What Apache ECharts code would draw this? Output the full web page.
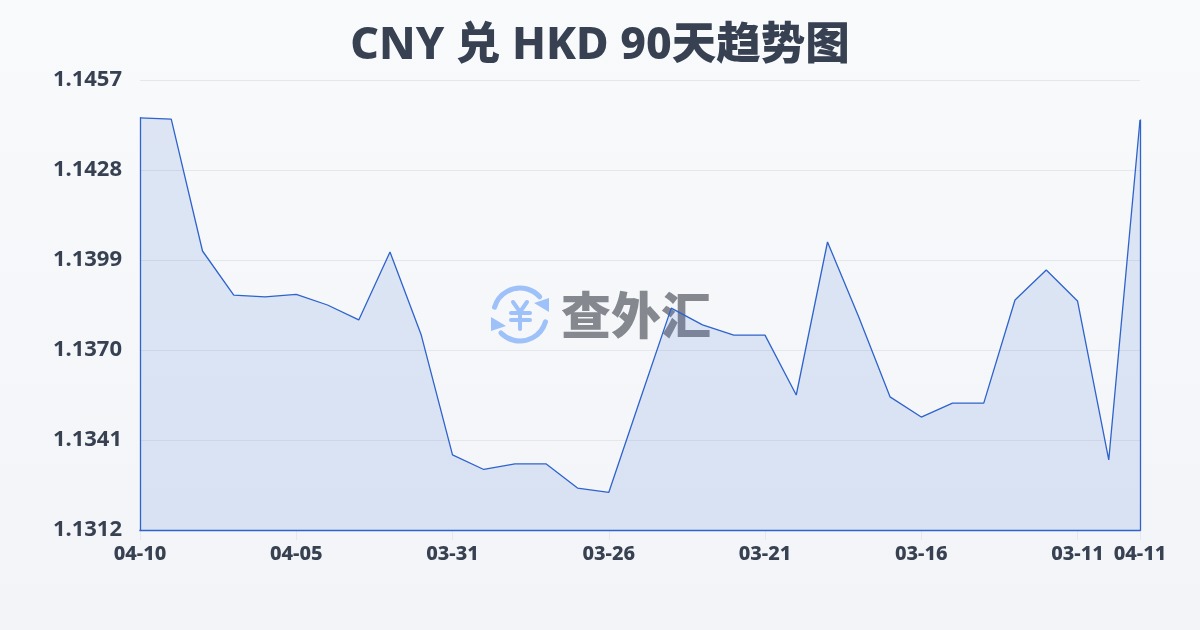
<!DOCTYPE html>
<html><head><meta charset="utf-8">
<style>html,body{margin:0;padding:0;width:1200px;height:630px;overflow:hidden}#c{width:1200px;height:630px}</style>
<script src="https://cdn.jsdelivr.net/npm/echarts@6/dist/echarts.min.js"></script>
</head><body><div id="c"></div>
<script>
const titleText = 'CNY 兑 HKD 90天趋势图';
const categories = ['04-10','04-09','04-08','04-07','04-06','04-05','04-04','04-03','04-02','04-01','03-31','03-30','03-29','03-28','03-27','03-26','03-25','03-24','03-23','03-22','03-21','03-20','03-19','03-18','03-17','03-16','03-15','03-14','03-13','03-12','03-11','03-10','04-11'];
const rates = [1.14448,1.14444,1.14019,1.13877,1.13871,1.13879,1.13845,1.13797,1.14016,1.13748,1.13362,1.13315,1.13333,1.13333,1.13255,1.13241,1.13539,1.13835,1.13781,1.13748,1.13748,1.13555,1.14048,1.13806,1.13549,1.13484,1.13529,1.13529,1.13861,1.13958,1.13858,1.13346,1.14441];
const yMin = 1.1312, yMax = 1.1457, yStep = 0.0029;
const labelled = ['04-10','04-05','03-31','03-26','03-21','03-16','03-11','04-11'];
const font = '"Noto Sans","Noto Sans CJK SC",sans-serif';
const ink = '#374151', blue = '#2f63cc', logo = '#9dc1f8';
const showIdx = (i, v) => labelled.includes(v);
const last = categories.length - 1;
const deg = d => d * Math.PI / 180;
const line = (x1,y1,x2,y2,w) => ({type:'line',shape:{x1,y1,x2,y2},style:{stroke:logo,lineWidth:w,lineCap:'round'}});
const chart = echarts.init(document.getElementById('c'), null, {renderer:'canvas'});
chart.setOption({
  animation:false,
  backgroundColor:{type:'linear',x:0,y:0,x2:0,y2:1,colorStops:[{offset:0,color:'#f8fafc'},{offset:1,color:'#f2f4f7'}]},
  title:{text:titleText,left:'center',top:19,textStyle:{fontFamily:font,fontSize:44.5,fontWeight:800,color:ink}},
  grid:{left:140,right:60,top:80,bottom:100},
  xAxis:{type:'category',data:categories,boundaryGap:false,
    axisLine:{show:false},
    axisTick:{show:true,interval:showIdx,length:10,lineStyle:{color:'#e5e8ee'}},
    axisLabel:{interval:showIdx,hideOverlap:false,showMinLabel:true,showMaxLabel:true,margin:14,fontFamily:font,fontSize:20,fontWeight:800,color:ink},
    splitLine:{show:false}},
  yAxis:{type:'value',min:yMin,max:yMax,interval:yStep,
    axisLine:{show:false},axisTick:{show:false},
    axisLabel:{margin:18,fontFamily:font,fontSize:22,fontWeight:700,color:ink,formatter:v=>v.toFixed(4),padding:[0,0,4,0]},
    splitLine:{show:true,lineStyle:{color:'#e4e7ec',width:1}}},
  graphic:[
    {type:'group',z:0,silent:true,children:[
      {type:'arc',shape:{cx:520,cy:314.5,r:26.5,startAngle:deg(-164),endAngle:deg(-42),clockwise:true},style:{fill:'none',stroke:logo,lineWidth:5,lineCap:'round'}},
      {type:'arc',shape:{cx:520,cy:314.5,r:26.5,startAngle:deg(16),endAngle:deg(136),clockwise:true},style:{fill:'none',stroke:logo,lineWidth:5,lineCap:'round'}},
      {type:'polygon',shape:{points:[[549,298],[549,312],[534,303]]},style:{fill:logo}},
      {type:'polygon',shape:{points:[[491,317],[491,331],[506,326]]},style:{fill:logo}},
      {type:'polyline',shape:{points:[[513,302],[520,312],[527,302]]},style:{fill:'none',stroke:logo,lineWidth:4,lineCap:'round'}},
      line(511,313,530,313,4),line(511,320,530,320,4),line(520,312,520,329,4),
      {type:'text',x:636,y:315,style:{text:'查外汇',align:'center',verticalAlign:'middle',font:'900 50px "Noto Sans CJK SC"',fill:'#85888e'}}
    ]}
  ],
  series:[{type:'line',data:rates,z:3,symbol:'none',smooth:false,
    lineStyle:{color:blue,width:1.3},
    areaStyle:{origin:'start',color:'rgba(64,112,216,0.2)'},
    markLine:{silent:true,symbol:'none',label:{show:false},animation:false,
      lineStyle:{color:blue,width:1.3,type:'solid',cap:'square'},
      data:[
        [{xAxis:0,yAxis:yMin},{xAxis:0,yAxis:rates[0]}],
        [{xAxis:last,yAxis:yMin},{xAxis:last,yAxis:rates[last]}],
        [{xAxis:0,yAxis:yMin},{xAxis:last,yAxis:yMin}]
      ]}
  }]
});
</script></body></html>
